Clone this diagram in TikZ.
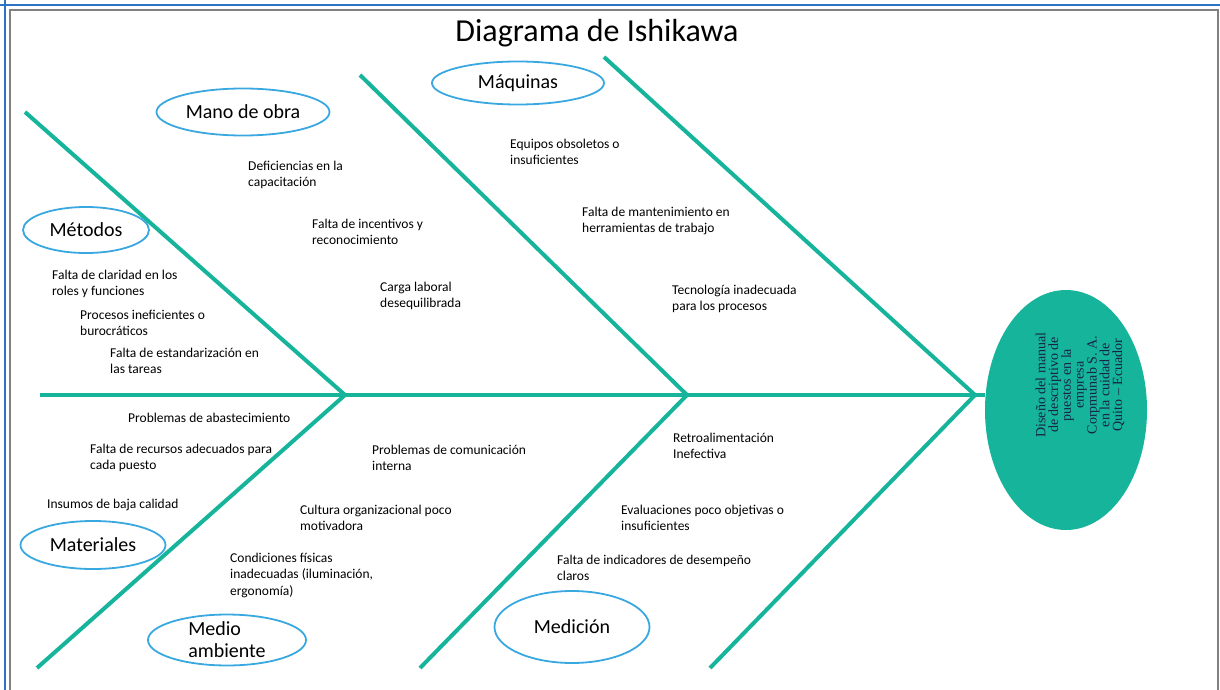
\documentclass[tikz,border=0pt]{standalone}
\usepackage{fontspec}
\setmainfont{Carlito}
\newfontfamily\romana{Liberation Serif}
\usetikzlibrary{shapes.geometric}
\definecolor{espina}{RGB}{22,180,155}
\definecolor{borde}{RGB}{58,168,224}
\definecolor{marco}{RGB}{45,115,195}
\definecolor{tinta}{RGB}{25,35,70}
\begin{document}
\begin{tikzpicture}[x=1pt, y=-1pt,
		bone/.style={draw=espina, line width=4pt},
		causa/.style={anchor=west, align=left, inner sep=0pt, font=\fontsize{13.5}{16.5}\selectfont},
		categ/.style={ellipse, draw=borde, line width=1.8pt, inner sep=0pt, font=\fontsize{20}{22}\selectfont}]
		
		\useasboundingbox (0,0) rectangle (1220,690);
		\draw[marco, line width=2pt] (0,5) -- (1220,5);
		\draw[marco, line width=2pt] (5,0) -- (5,690);
		\draw[gray, line width=1.5pt] (10,700) -- (10,10) -- (1218,10) -- (1218,700);
		
		\node (titulo) at (597,33) {\fontsize{32}{36}\selectfont Diagrama de Ishikawa};
		
		\node[ellipse, fill=espina, minimum width=162pt, minimum height=240pt] (efecto) at (1066,410) {};
		\node[rotate=90, align=center, text=tinta, font=\romana\fontsize{14}{12.8}\selectfont] (meta) at (1080,385)
			{Diseño del manual\\de descriptivo de\\puestos en la\\empresa\\Corpmunab S. A.\\en la cuidad de\\Quito – Ecuador};
		
		\coordinate (cola) at (40,395);
		\coordinate (j1) at (345,395);
		\coordinate (j2) at (687,395);
		\coordinate (j3) at (975,395);
		\coordinate (s1) at (25,112);
		\coordinate (s2) at (360,75);
		\coordinate (s3) at (604,57);
		\coordinate (i1) at (37,668);
		\coordinate (i2) at (420,668);
		\coordinate (i3) at (710,668);
		
		\draw[bone] (cola) -- (efecto.west |- cola);
		\draw[bone] (s1) -- (j1) -- (i1);
		\draw[bone] (s2) -- (j2) -- (i2);
		\draw[bone] (s3) -- (j3) -- (i3);
		
		\node[categ, minimum width=173pt, minimum height=47pt] (mano) at (243,112) {Mano de obra};
		\node[categ, minimum width=172pt, minimum height=43pt] (maq) at (518,83) {Máquinas};
		\node[categ, minimum width=126pt, minimum height=46pt] (metod) at (86,230) {Métodos};
		\node[categ, minimum width=145pt, minimum height=48pt] (mater) at (93,545) {Materiales};
		\node[categ, minimum width=158pt, minimum height=45pt, align=left] (medio) at (227,640) {Medio\\ambiente};
		\node[categ, minimum width=155pt, minimum height=72pt] (medic) at (572,627) {Medición};
		
		\node[causa] (c1) at (248,175) {Deficiencias en la\\capacitación};
		\node[causa] (c2) at (312,232) {Falta de incentivos y\\reconocimiento};
		\node[causa] (c3) at (380,296) {Carga laboral\\desequilibrada};
		\node[causa] (c4) at (510,152) {Equipos obsoletos o\\insuficientes};
		\node[causa] (c5) at (582,221) {Falta de mantenimiento en\\herramientas de trabajo};
		\node[causa] (c6) at (672,299) {Tecnología inadecuada\\para los procesos};
		\node[causa] (c7) at (52,284) {Falta de claridad en los\\roles y funciones};
		\node[causa] (c8) at (80,323) {Procesos ineficientes o\\burocráticos};
		\node[causa] (c9) at (110,361) {Falta de estandarización en\\las tareas};
		\node[causa] (c10) at (128,418) {Problemas de abastecimiento};
		\node[causa] (c11) at (90,458) {Falta de recursos adecuados para\\cada puesto};
		\node[causa] (c12) at (47,505) {Insumos de baja calidad};
		\node[causa] (c13) at (372,458) {Problemas de comunicación\\interna};
		\node[causa] (c14) at (300,518) {Cultura organizacional poco\\motivadora};
		\node[causa] (c15) at (230,575) {Condiciones físicas\\inadecuadas (iluminación,\\ergonomía)};
		\node[causa] (c16) at (673,446) {Retroalimentación\\Inefectiva};
		\node[causa] (c17) at (621,518) {Evaluaciones poco objetivas o\\insuficientes};
		\node[causa] (c18) at (557,568) {Falta de indicadores de desempeño\\claros};
		\end{tikzpicture}
\end{document}
